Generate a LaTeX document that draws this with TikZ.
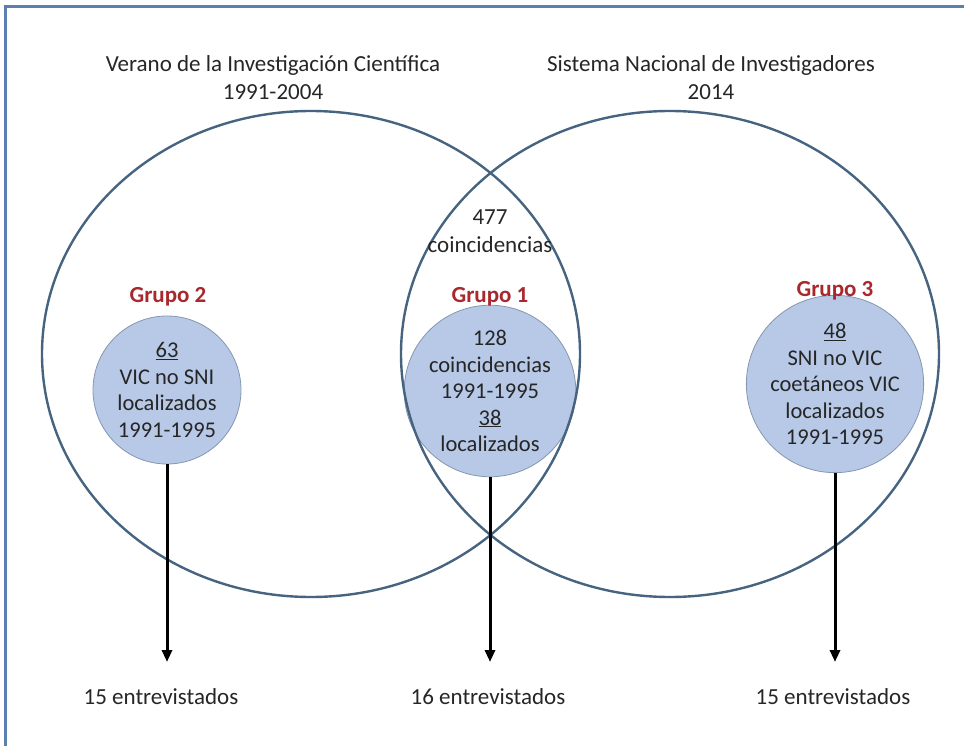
\documentclass[tikz,border=0pt]{standalone}
\usepackage{fontspec}
\setmainfont{Carlito}
\usepackage{xcolor}
\usetikzlibrary{arrows.meta, shapes.geometric, positioning}
\definecolor{marco}{HTML}{5B7FAE}
\definecolor{borde}{HTML}{46637F}
\definecolor{relleno}{HTML}{B7C9E6}
\definecolor{bordecirc}{HTML}{8496B0}
\definecolor{rojogrupo}{HTML}{A8282E}

\begin{document}
\begin{tikzpicture}[x=1pt, y=-1pt, >={Triangle[length=12pt,width=10pt]},
  conjunto/.style={ellipse, draw=borde, line width=2.4pt, minimum width=538pt, minimum height=486pt, inner sep=0pt},
  grupo/.style={circle, draw=bordecirc, fill=relleno, line width=0.8pt, inner sep=0pt, align=center, font=\fontsize{22.5}{26.5}\selectfont, text=black!85},
  etiq/.style={font=\fontsize{23}{28}\selectfont, align=center, text=black!85},
  nombre/.style={font=\fontsize{23}{26}\selectfont\bfseries, text=rojogrupo},
  flecha/.style={->, line width=3pt}]
\useasboundingbox (0,0) rectangle (964,746);
\draw[marco, line width=3pt] (5,746) -- (5,7) -- (964,7);

\node[etiq] (tvic) at (273,78) {Verano de la Investigación Científica\\1991-2004};
\node[etiq] (tsni) at (711,78) {Sistema Nacional de Investigadores\\2014};

\node[grupo, minimum size=148pt] (g2) at (167,390) {\underline{63}\\VIC no SNI\\localizados\\1991-1995};
\node[grupo, minimum size=158pt] (g1) at (490,391) {128\\coincidencias\\1991-1995\\\underline{38}\\localizados};
\node[grupo, minimum size=160pt] (g3) at (835,384) {\underline{48}\\SNI no VIC\\coetáneos VIC\\localizados\\1991-1995};

\node[conjunto] (vic) at (311,354) {};
\node[conjunto] (sni) at (670,354) {};

\node[etiq] (inter) at (490,231) {477\\coincidencias};
\node[nombre] (n2) at (168,297) {Grupo 2};
\node[nombre] (n1) at (490,297) {Grupo 1};
\node[nombre] (n3) at (835,291) {Grupo 3};

\node[etiq] (e2) at (161,697) {15 entrevistados};
\node[etiq] (e1) at (488,697) {16 entrevistados};
\node[etiq] (e3) at (833,697) {15 entrevistados};

\coordinate (t2) at (167,662);
\coordinate (t1) at (490,662);
\coordinate (t3) at (835,662);
\draw[flecha] (g2.south) -- (t2);
\draw[flecha] (g1.south) -- (t1);
\draw[flecha] (g3.south) -- (t3);
\end{tikzpicture}
\end{document}
